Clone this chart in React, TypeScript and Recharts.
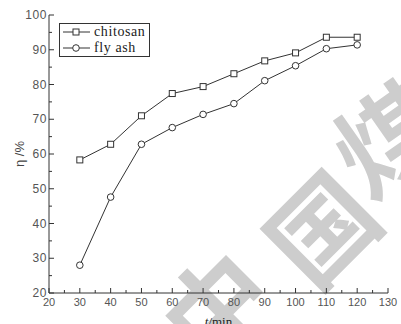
import React from 'react';
import { LineChart, Line, XAxis, YAxis, Legend, Label } from 'recharts';

const times = [30, 40, 50, 60, 70, 80, 90, 100, 110, 120];
const chitosan = [58.3, 62.8, 71.0, 77.4, 79.4, 83.1, 86.8, 89.1, 93.6, 93.6];
const flyAsh = [28.0, 47.6, 62.8, 67.6, 71.4, 74.5, 81.1, 85.4, 90.3, 91.4];
const xTicks = [20, 25, 30, 35, 40, 45, 50, 55, 60, 65, 70, 75, 80, 85, 90, 95, 100, 105, 110, 115, 120, 125, 130];
const yTicks = [20, 25, 30, 35, 40, 45, 50, 55, 60, 65, 70, 75, 80, 85, 90, 95, 100];
const seriesNames = ['chitosan', 'fly ash'];

const data = times.map((t, i) => ({ t, chitosan: chitosan[i], flyAsh: flyAsh[i] }));

const INK = '#333';
const X_MARGIN = 5;
const Y_MARGIN = 2;

const XTick = (props: any) => {
  const { x, y, payload } = props;
  const major = payload.value % 10 === 0;
  const axisY = y - X_MARGIN;
  return (
    <g>
      <line x1={x} x2={x} y1={axisY} y2={axisY - (major ? 5 : 3)} stroke={INK} />
      {major && (
        <text x={x} y={y} dy="0.71em" textAnchor="middle" fontSize={11} fill="#555"
          fontFamily="'Liberation Sans', Arial, sans-serif">
          {payload.value}
        </text>
      )}
    </g>
  );
};

const YTick = (props: any) => {
  const { x, y, payload } = props;
  const major = payload.value % 10 === 0;
  const axisX = x + Y_MARGIN;
  return (
    <g>
      <line x1={axisX} x2={axisX + (major ? 5 : 3)} y1={y} y2={y} stroke={INK} />
      {major && (
        <text x={x} y={y} dy="0.35em" textAnchor="end" fontSize={12} fill="#555" letterSpacing={0.6}
          fontFamily="'Liberation Sans', Arial, sans-serif">
          {payload.value}
        </text>
      )}
    </g>
  );
};

const SquareDot = (props: any) => {
  const { cx, cy } = props;
  return <rect x={cx - 3} y={cy - 3} width={6} height={6} fill="#fff" stroke={INK} />;
};

const CircleDot = (props: any) => {
  const { cx, cy } = props;
  return <circle cx={cx} cy={cy} r={3.3} fill="#fff" stroke={INK} />;
};

const LegendBox = () => (
  <div
    style={{
      boxSizing: 'border-box',
      width: 91,
      height: 34,
      border: `1px solid ${INK}`,
      background: '#fff',
      padding: '0 0 0 2px',
      fontFamily: "'Liberation Serif', 'Times New Roman', serif",
      fontSize: 14,
      letterSpacing: 0.6,
      color: '#222',
    }}
  >
    {seriesNames.map((name, i) => (
      <div key={name} style={{ display: 'flex', alignItems: 'center', height: 16 }}>
        <svg width={30} height={14} style={{ display: 'block' }}>
          <line x1={1} x2={28} y1={7} y2={7} stroke={INK} />
          {i === 0 ? (
            <rect x={11} y={4} width={6} height={6} fill="#fff" stroke={INK} />
          ) : (
            <circle cx={14} cy={7} r={3.3} fill="#fff" stroke={INK} />
          )}
        </svg>
        <span style={{ marginLeft: 2, lineHeight: '16px' }}>{name}</span>
      </div>
    ))}
  </div>
);

const Watermark = () => (
  <svg width={401} height={324} style={{ position: 'absolute', left: 0, top: 0 }}>
    <g fill="#cdcdcd" fontFamily="'Noto Sans CJK SC', sans-serif" fontWeight={700} fontSize={104}
      textAnchor="middle" dominantBaseline="central">
      <text x={213} y={303} transform="rotate(-45 213 303)">中</text>
      <text x={318} y={225} transform="rotate(-45 318 225)">国</text>
      <text x={385} y={135} transform="rotate(-35 385 135)">煤</text>
    </g>
  </svg>
);

export default function App() {
  return (
    <div style={{ position: 'absolute', left: 0, top: 0, width: 401, height: 324, background: '#fff' }}>
      <Watermark />
      <div style={{ position: 'absolute', left: 0, top: 0 }}>
        <LineChart width={401} height={324} data={data} margin={{ top: 15, right: 13, bottom: 0, left: 0 }}>
          <XAxis dataKey="t" type="number" domain={[20, 130]} ticks={xTicks} interval={0}
            height={31} tickSize={0} tickMargin={X_MARGIN} tickLine={false}
            axisLine={{ stroke: INK }} tick={<XTick />}>
            <Label
              content={(p: any) => {
                const vb = p.viewBox;
                return (
                  <text x={vb.x + vb.width / 2} y={vb.y + 33} textAnchor="middle" fontSize={13}
                    fill="#222" fontFamily="'Liberation Serif', serif">
                    <tspan fontStyle="italic">t</tspan>/min
                  </text>
                );
              }}
            />
          </XAxis>
          <XAxis xAxisId="top" orientation="top" type="number" domain={[20, 130]} height={0}
            tick={false} tickLine={false} axisLine={{ stroke: INK }} />
          <YAxis type="number" domain={[20, 100]} ticks={yTicks} interval={0} width={49}
            tickSize={0} tickMargin={Y_MARGIN} tickLine={false} axisLine={{ stroke: INK }}
            tick={<YTick />}>
            <Label
              content={(p: any) => {
                const vb = p.viewBox;
                const cx = 19;
                const cy = vb.y + vb.height / 2;
                return (
                  <text x={cx} y={cy} transform={`rotate(-90 ${cx} ${cy})`} textAnchor="middle"
                    dominantBaseline="central" fontSize={13} fill="#444"
                    fontFamily="'Liberation Sans', Arial, sans-serif">
                    η /%
                  </text>
                );
              }}
            />
          </YAxis>
          <YAxis yAxisId="right" orientation="right" type="number" domain={[20, 100]} width={0}
            tick={false} tickLine={false} axisLine={{ stroke: INK }} />
          <Legend layout="vertical" align="center" verticalAlign="middle" content={<LegendBox />}
            wrapperStyle={{ top: 23, left: 59, width: 'auto', height: 'auto' }} />
          <Line dataKey="chitosan" name="chitosan" stroke={INK} strokeWidth={1} dot={<SquareDot />}
            isAnimationActive={false} />
          <Line dataKey="flyAsh" name="fly ash" stroke={INK} strokeWidth={1} dot={<CircleDot />}
            isAnimationActive={false} />
        </LineChart>
      </div>
    </div>
  );
}
